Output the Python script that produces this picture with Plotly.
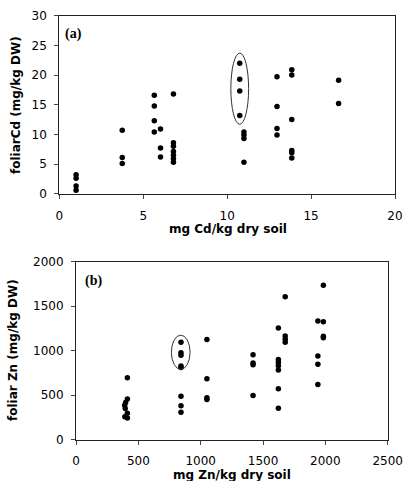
import plotly.graph_objects as go

# ---------------- Data ----------------
# Panel (a): foliar Cd vs soil Cd
cd_soil = [1.0, 1.0, 1.0, 1.0,
           3.75, 3.75, 3.75,
           5.66, 5.66, 5.66, 5.66,
           6.03, 6.03, 6.03,
           6.8, 6.8, 6.8, 6.8, 6.8, 6.8, 6.8,
           10.75, 10.75, 10.75, 10.75,
           11.0, 11.0, 11.0, 11.0,
           12.97, 12.97, 12.97, 12.97,
           13.85, 13.85, 13.85, 13.85, 13.85, 13.85,
           16.64, 16.64]
cd_foliar = [3.2, 2.6, 1.3, 0.6,
             10.7, 6.1, 5.1,
             16.6, 14.8, 12.3, 10.4,
             10.9, 7.7, 6.2,
             16.8, 8.6, 8.0, 7.1, 6.5, 5.9, 5.3,
             22.0, 19.3, 17.3, 13.2,
             10.4, 9.9, 9.3, 5.3,
             19.7, 14.7, 11.0, 9.9,
             20.9, 20.0, 12.5, 7.3, 6.9, 6.0,
             19.1, 15.2]

# Panel (b): foliar Zn vs soil Zn
zn_soil = [412, 412, 398, 390, 395, 412, 392, 412,
           842, 842, 842, 842, 842, 842, 842, 842,
           1050, 1050, 1050, 1050,
           1420, 1420, 1420, 1420,
           1623, 1623, 1623, 1623, 1623, 1623, 1623,
           1678, 1678, 1678, 1678,
           1940, 1940, 1940, 1940,
           1984, 1984, 1984, 1984]
zn_foliar = [695, 457, 418, 388, 350, 297, 258, 245,
             1095, 978, 950, 828, 810, 488, 382, 308,
             1125, 685, 472, 452,
             955, 862, 843, 497,
             1255, 900, 868, 830, 782, 573, 354,
             1607, 1166, 1128, 1096,
             1334, 940, 847, 620,
             1735, 1326, 1162, 1146]

# Axis ticks
cd_x_ticks = [0, 5, 10, 15, 20]
cd_y_ticks = [0, 5, 10, 15, 20, 25, 30]
zn_x_ticks = [0, 500, 1000, 1500, 2000, 2500]
zn_y_ticks = [0, 500, 1000, 1500, 2000]

# Highlight ellipses (data-space bounds)
cd_ellipse = dict(x0=10.22, x1=11.28, y0=11.7, y1=23.7)
zn_ellipse = dict(x0=765, x1=915, y0=790, y1=1175)

# ---------------- Figure ----------------
W, H = 404, 481


def fx(p):
    return p / W


def fy(p):
    return 1 - p / H


fig = go.Figure()
fig.add_trace(go.Scatter(x=cd_soil, y=cd_foliar, mode="markers",
                         marker=dict(color="black", size=5.5),
                         xaxis="x", yaxis="y", cliponaxis=False,
                         showlegend=False))
fig.add_trace(go.Scatter(x=zn_soil, y=zn_foliar, mode="markers",
                         marker=dict(color="black", size=5.5),
                         xaxis="x2", yaxis="y2", cliponaxis=False,
                         showlegend=False))

tickfont = dict(family="DejaVu Sans", size=12, color="black")
common = dict(showline=True, mirror=True, linecolor="#222", linewidth=1,
              ticks="outside", ticklen=4, tickcolor="#444", tickwidth=1,
              showgrid=False, zeroline=False, tickfont=tickfont,
              fixedrange=True, automargin=False)

fig.update_layout(
    width=W, height=H,
    margin=dict(l=0, r=0, t=0, b=0, autoexpand=False),
    paper_bgcolor="white", plot_bgcolor="white",
    xaxis=dict(domain=[fx(59.3), fx(395)], range=[0, 20],
               tickvals=cd_x_ticks, anchor="y", ticklabelstandoff=7, **common),
    yaxis=dict(domain=[fy(193.7), fy(15.7)], range=[0, 30],
               tickvals=cd_y_ticks, anchor="x", ticklabelstandoff=5, **common),
    xaxis2=dict(domain=[fx(76), fx(387.7)], range=[0, 2500],
                tickvals=zn_x_ticks, anchor="y2", ticklabelstandoff=6, **common),
    yaxis2=dict(domain=[fy(439.7), fy(261.7)], range=[0, 2000],
                tickvals=zn_y_ticks, anchor="x2", ticklabelstandoff=5, **common),
)

title_font = dict(family="DejaVu Sans", size=12, color="black")
label_font = dict(family="Liberation Serif", size=14, color="black")

annotations = [
    dict(text="<b>mg Cd/kg dry soil</b>", x=fx(228), y=fy(229), xref="paper",
         yref="paper", showarrow=False, font=title_font,
         xanchor="center", yanchor="middle"),
    dict(text="<b>foliarCd (mg/kg DW)</b>", x=fx(16), y=fy(105), xref="paper",
         yref="paper", showarrow=False, font=title_font, textangle=-90,
         xanchor="center", yanchor="middle"),
    dict(text="<b>mg Zn/kg dry soil</b>", x=fx(232), y=fy(475), xref="paper",
         yref="paper", showarrow=False, font=title_font,
         xanchor="center", yanchor="middle"),
    dict(text="<b>foliar Zn (mg/kg DW)</b>", x=fx(13), y=fy(350), xref="paper",
         yref="paper", showarrow=False, font=title_font, textangle=-90,
         xanchor="center", yanchor="middle"),
    dict(text="<b>(a)</b>", x=fx(63), y=fy(34), xref="paper", yref="paper",
         showarrow=False, font=label_font, xanchor="left", yanchor="middle"),
    dict(text="<b>(b)</b>", x=fx(83), y=fy(280.5), xref="paper", yref="paper",
         showarrow=False, font=label_font, xanchor="left", yanchor="middle"),
]
fig.update_layout(annotations=annotations)

fig.add_shape(type="circle", xref="x", yref="y", line=dict(color="#333", width=1),
              **cd_ellipse)
fig.add_shape(type="circle", xref="x2", yref="y2", line=dict(color="#333", width=1),
              **zn_ellipse)

fig.write_html("out.html",
               config={"displayModeBar": False},
               post_script="document.body.style.margin='0';"
                           "document.body.style.padding='0';")
